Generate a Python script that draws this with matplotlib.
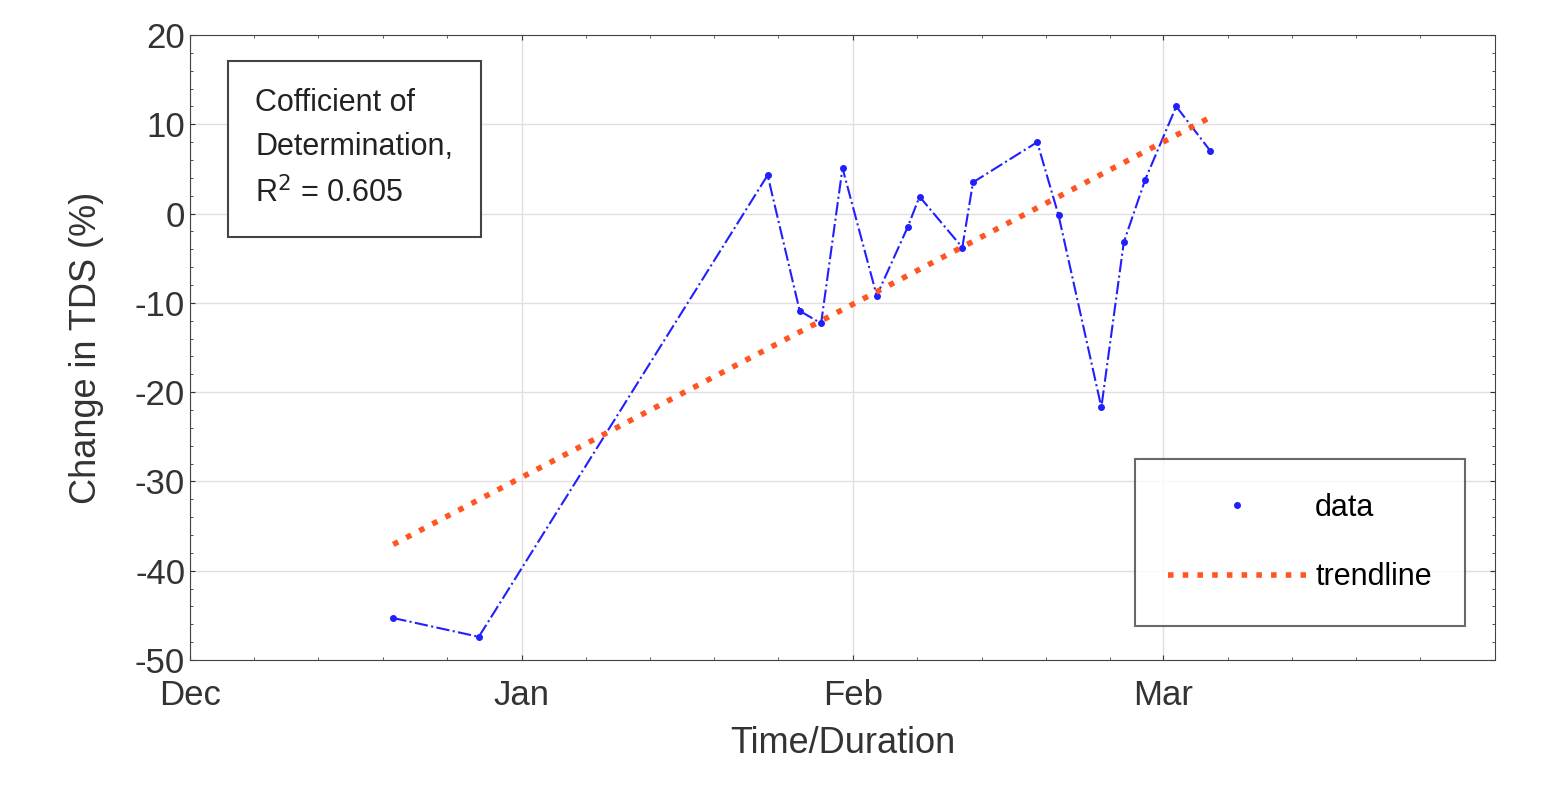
import numpy as np
import matplotlib
matplotlib.use("Agg")
import matplotlib.pyplot as plt
import matplotlib.dates as mdates
from matplotlib.ticker import MultipleLocator, FixedLocator
import datetime as dt

start = dt.datetime(2019, 12, 1)
days = [19, 27, 54, 57, 59, 61, 64.2, 67.1, 68.2, 72.2, 73.2, 79.2, 81.2, 85.2, 87.3, 89.3, 92.2, 95.4]
tds = [-45.3, -47.4, 4.3, -10.9, -12.3, 5.1, -9.2, -1.5, 1.9, -3.8, 3.5, 8.0, -0.2, -21.7, -3.2, 3.8, 12.0, 7.0]
month_labels = ['Dec', 'Jan', 'Feb', 'Mar']
month_dates = [dt.datetime(2019, 12, 1), dt.datetime(2020, 1, 1), dt.datetime(2020, 2, 1), dt.datetime(2020, 3, 1)]
dates = [start + dt.timedelta(days=d) for d in days]
xnum = mdates.date2num(dates)
coef = np.polyfit(xnum, tds, 1)
trend = np.polyval(coef, xnum)

plt.rcParams['font.family'] = ['Liberation Sans', 'DejaVu Sans']
plt.rcParams['axes.unicode_minus'] = False
fig = plt.figure(figsize=(15.47, 7.85), dpi=100)
ax = fig.add_axes([190/1547, 125/785, 1305/1547, 625/785])
ax.plot(dates, tds, color='#2020ff', ls='-.', lw=1.5, marker='.', ms=8)
ax.plot([], [], ls='none', marker='.', color='#2020ff', ms=8, label='data')
ax.plot(dates, trend, color='#ff5522', ls=':', lw=4, label='trendline')
ax.set_xlim(start, dt.datetime(2020, 4, 1))
ax.set_ylim(-50, 20)
ax.xaxis.set_major_locator(FixedLocator(mdates.date2num(month_dates)))
ax.set_xticklabels(month_labels)
ax.xaxis.set_minor_locator(mdates.DayLocator(bymonthday=[7, 13, 19, 25]))
ax.yaxis.set_major_locator(MultipleLocator(10))
ax.yaxis.set_minor_locator(MultipleLocator(2))
ax.grid(True, which='major', color='#e0e0e0', lw=1)
ax.tick_params(which='both', direction='in', top=True, right=True, labelsize=25, colors='#333333')
ax.tick_params(axis='x', pad=14)
for s in ax.spines.values():
    s.set_color('#444444')
ax.set_xlabel('Time/Duration', fontsize=26, color='#333333', labelpad=10)
ax.set_ylabel('Change in TDS (%)', fontsize=26, color='#333333', labelpad=22)
ax.text(0.05, 0.915, 'Cofficient of\nDetermination,\nR$^2$ = 0.605', transform=ax.transAxes,
        fontsize=22, va='top', ha='left', linespacing=1.6, color='#222222',
        bbox=dict(boxstyle='square,pad=0.9', fc='white', ec='#444444', lw=1.5))
leg = ax.legend(loc='lower right', fontsize=22, fancybox=False, edgecolor='#444444',
                borderpad=1.1, labelspacing=1.3, handlelength=4.5, handletextpad=0.3,
                bbox_to_anchor=(0.989, 0.03))
leg.get_frame().set_linewidth(1.5)
fig.savefig('out.png', dpi=100)
